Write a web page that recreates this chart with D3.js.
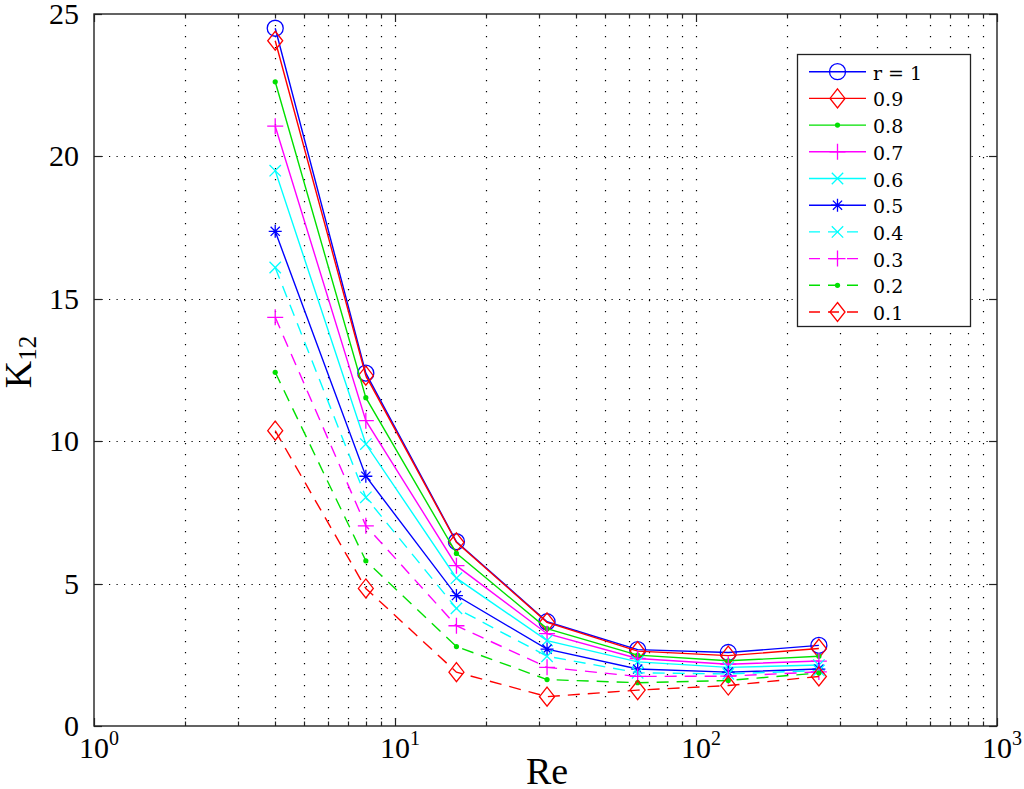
<!DOCTYPE html>
<html>
<head>
<meta charset="utf-8">
<script src="https://cdn.jsdelivr.net/npm/d3@7"></script>
<style>
  html, body { margin: 0; padding: 0; background: #fff; }
  svg { display: block; }
</style>
</head>
<body>
<svg id="chart" width="1024" height="789"></svg>
<script>
// ---- data ----
const reValues = [4, 8, 16, 32, 64, 128, 256];
const seriesLabels = ["r = 1", "0.9", "0.8", "0.7", "0.6", "0.5", "0.4", "0.3", "0.2", "0.1"];
const k_r10 = [24.50, 12.39, 6.47, 3.66, 2.68, 2.58, 2.83];
const k_r09 = [24.06, 12.30, 6.45, 3.64, 2.63, 2.47, 2.72];
const k_r08 = [22.62, 11.53, 6.06, 3.42, 2.49, 2.29, 2.45];
const k_r07 = [21.06, 10.72, 5.63, 3.24, 2.37, 2.17, 2.28];
const k_r06 = [19.50, 9.90, 5.19, 3.00, 2.25, 2.06, 2.14];
const k_r05 = [17.37, 8.77, 4.58, 2.70, 2.00, 1.89, 2.00];
const k_r04 = [16.10, 8.03, 4.13, 2.45, 1.87, 1.83, 1.95];
const k_r03 = [14.35, 7.03, 3.52, 2.06, 1.74, 1.75, 1.90];
const k_r02 = [12.42, 5.80, 2.79, 1.63, 1.52, 1.60, 1.86];
const k_r01 = [10.37, 4.83, 1.89, 1.03, 1.26, 1.42, 1.74];
const seriesValues = [k_r10, k_r09, k_r08, k_r07, k_r06, k_r05, k_r04, k_r03, k_r02, k_r01];
const seriesColors = ["#0000ff", "#ff0000", "#00e000", "#ff00ff", "#00ffff", "#0000ff", "#00ffff", "#ff00ff", "#00e000", "#ff0000"];
const seriesMarkers = ["circle", "diamond", "dot", "plus", "cross", "star", "cross", "plus", "dot", "diamond"];
const seriesDashed = [false, false, false, false, false, false, true, true, true, true];
const yTickValues = [0, 5, 10, 15, 20, 25];
const yGridValues = [5, 10, 15, 20];
const xMajorExponents = [0, 1, 2, 3];

// ---- layout ----
const L = 94, R = 997, T = 14, B = 726;
const svg = d3.select("#chart");
const x = d3.scaleLog().domain([1, 1000]).range([L, R]);
const y = d3.scaleLinear().domain([0, 25]).range([B, T]);
const serif = "'Liberation Serif', 'Times New Roman', serif";

svg.append("rect").attr("x", 0).attr("y", 0).attr("width", 1024).attr("height", 789).attr("fill", "#fff");

// ---- grid ----
const allXTicks = x.ticks();
const gridX = allXTicks.filter(v => v > 1 && v < 1000);
svg.append("g").selectAll("line").data(gridX).join("line")
  .attr("x1", d => Math.round(x(d)) + 0.5).attr("x2", d => Math.round(x(d)) + 0.5)
  .attr("y1", T).attr("y2", B)
  .attr("stroke", "#000").attr("stroke-width", 1.2)
  .attr("stroke-dasharray", "1.2,9.8");
svg.append("g").selectAll("line").data(yGridValues).join("line")
  .attr("x1", L).attr("x2", R)
  .attr("y1", d => Math.round(y(d)) + 0.5).attr("y2", d => Math.round(y(d)) + 0.5)
  .attr("stroke", "#000").attr("stroke-width", 1.2)
  .attr("stroke-dasharray", "1.2,6.3");

// ---- markers ----
function markerPath(type) {
  switch (type) {
    case "circle": { const p = d3.path(); p.arc(0, 0, 8, 0, 2 * Math.PI); p.closePath(); return p.toString(); }
    case "diamond": return "M0,-9.5L7.5,0L0,9.5L-7.5,0Z";
    case "plus": return "M-8,0L8,0M0,-8L0,8";
    case "cross": return "M-5.7,-5.7L5.7,5.7M-5.7,5.7L5.7,-5.7";
    case "star": return "M-6.5,0L6.5,0M0,-6.5L0,6.5M-4.6,-4.6L4.6,4.6M-4.6,4.6L4.6,-4.6";
    default: return "";
  }
}
function drawMarker(g, type, color, cx, cy) {
  if (type === "dot") {
    g.append("circle").attr("cx", cx).attr("cy", cy).attr("r", 2.6).attr("fill", color);
  } else {
    g.append("path").attr("d", markerPath(type)).attr("transform", `translate(${cx},${cy})`)
      .attr("fill", "none").attr("stroke", color).attr("stroke-width", 1.3);
  }
}

// ---- series ----
const line = d3.line().x((d, i) => x(reValues[i])).y(d => y(d));
const seriesG = svg.append("g");
seriesValues.forEach((vals, si) => {
  const g = seriesG.append("g");
  g.append("path").attr("d", line(vals))
    .attr("fill", "none").attr("stroke", seriesColors[si]).attr("stroke-width", 1.4)
    .attr("stroke-dasharray", seriesDashed[si] ? "12,8" : null);
  vals.forEach((v, i) => drawMarker(g, seriesMarkers[si], seriesColors[si], x(reValues[i]), y(v)));
});

// ---- axes box ----
svg.append("rect").attr("x", L).attr("y", T).attr("width", R - L).attr("height", B - T)
  .attr("fill", "none").attr("stroke", "#222").attr("stroke-width", 1.4);

const tickG = svg.append("g").attr("stroke", "#222").attr("stroke-width", 1.2);
allXTicks.forEach(v => {
  const isMajor = Math.abs(Math.log10(v) - Math.round(Math.log10(v))) < 1e-9;
  const len = isMajor ? 8 : 4.5;
  const px = Math.round(x(v)) + 0.5;
  tickG.append("line").attr("x1", px).attr("x2", px).attr("y1", B).attr("y2", B - len);
  tickG.append("line").attr("x1", px).attr("x2", px).attr("y1", T).attr("y2", T + len);
});
yTickValues.forEach(v => {
  const py = Math.round(y(v)) + 0.5;
  tickG.append("line").attr("x1", L).attr("x2", L + 8).attr("y1", py).attr("y2", py);
  tickG.append("line").attr("x1", R).attr("x2", R - 8).attr("y1", py).attr("y2", py);
});

// y tick labels
svg.append("g").selectAll("text").data(yTickValues).join("text")
  .attr("x", 79).attr("y", d => y(d) + 10)
  .attr("text-anchor", "end")
  .attr("font-family", serif).attr("font-size", 30).attr("fill", "#000")
  .text(d => d);

// x tick labels 10^n
const xl = svg.append("g");
xMajorExponents.forEach(e => {
  const t = xl.append("text")
    .attr("x", x(Math.pow(10, e)) + 5).attr("y", 758)
    .attr("text-anchor", "middle")
    .attr("font-family", serif).attr("font-size", 30).attr("fill", "#000");
  t.append("tspan").text("10");
  t.append("tspan").attr("font-size", 20).attr("dy", -13).text(String(e));
});

// axis titles
svg.append("text").attr("x", 547).attr("y", 784).attr("text-anchor", "middle")
  .attr("font-family", serif).attr("font-size", 38).attr("fill", "#000").text("Re");
const yt = svg.append("text")
  .attr("transform", "translate(31,362) rotate(-90)")
  .attr("text-anchor", "middle")
  .attr("font-family", serif).attr("font-size", 38).attr("fill", "#000");
yt.append("tspan").text("K");
yt.append("tspan").attr("font-size", 25).attr("dy", 5).text("12");

// ---- legend ----
const lg = svg.append("g");
lg.append("rect").attr("x", 797.5).attr("y", 54.5).attr("width", 173).attr("height", 272)
  .attr("fill", "#fff").attr("stroke", "#222").attr("stroke-width", 1.3);
seriesLabels.forEach((lab, i) => {
  const cy = 71.7 + i * 26.7;
  lg.append("line").attr("x1", 809).attr("x2", 866).attr("y1", cy).attr("y2", cy)
    .attr("stroke", seriesColors[i]).attr("stroke-width", 1.4)
    .attr("stroke-dasharray", seriesDashed[i] ? "11,8" : null);
  drawMarker(lg, seriesMarkers[i], seriesColors[i], 837.5, cy);
  lg.append("text").attr("x", 873).attr("y", cy + 8)
    .attr("font-family", "'DejaVu Serif', serif").attr("font-size", 19).attr("fill", "#000")
    .text(lab);
});
</script>
</body>
</html>
